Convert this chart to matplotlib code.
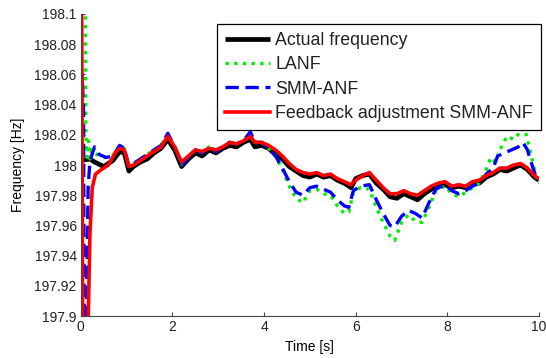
import matplotlib
matplotlib.use("Agg")
import matplotlib.pyplot as plt

# ── Datos ────────────────────────────────────────────────────────────────────
t_actual = [0, 0.2, 0.3, 0.5, 0.7, 0.85, 0.95, 1.05, 1.15, 1.3, 1.45, 1.6, 1.75,
            1.9, 2.05, 2.2, 2.35, 2.5, 2.65, 2.8, 2.95, 3.1, 3.25, 3.4, 3.55,
            3.7, 3.8, 3.95, 4.1, 4.25, 4.4, 4.55, 4.7, 4.85, 5.0, 5.15, 5.3,
            5.45, 5.6, 5.75, 5.9, 6.0, 6.15, 6.3, 6.45, 6.6, 6.75, 6.9, 7.05,
            7.2, 7.35, 7.5, 7.65, 7.8, 7.95, 8.1, 8.25, 8.4, 8.55, 8.7, 8.85,
            9.0, 9.15, 9.3, 9.45, 9.6, 9.75, 9.9, 10.0]
f_actual = [198.003, 198.004, 198.002, 197.999, 198.003, 198.009, 198.008,
            197.996, 197.999, 198.002, 198.004, 198.008, 198.011, 198.017,
            198.010, 197.999, 198.004, 198.008, 198.006, 198.010, 198.008,
            198.011, 198.013, 198.012, 198.015, 198.017, 198.012, 198.013,
            198.011, 198.007, 198.004, 197.999, 197.996, 197.993, 197.992,
            197.994, 197.992, 197.993, 197.990, 197.988, 197.985, 197.991,
            197.993, 197.994, 197.988, 197.984, 197.979, 197.978, 197.981,
            197.979, 197.977, 197.981, 197.984, 197.986, 197.987, 197.985,
            197.986, 197.985, 197.988, 197.988, 197.992, 197.994, 197.997,
            197.996, 197.998, 198.000, 197.997, 197.992, 197.990]

t_lanf = [0, 0.09, 0.11, 0.14, 0.17, 0.2, 0.24, 0.3, 0.4, 0.55, 0.7, 0.85, 0.95,
          1.05, 1.15, 1.3, 1.45, 1.6, 1.75, 1.9, 2.05, 2.2, 2.35, 2.5, 2.65,
          2.8, 2.95, 3.1, 3.25, 3.4, 3.55, 3.7, 3.8, 3.95, 4.1, 4.25, 4.4,
          4.55, 4.7, 4.85, 5.0, 5.15, 5.3, 5.45, 5.6, 5.75, 5.85, 5.95, 6.1,
          6.3, 6.45, 6.6, 6.75, 6.85, 7.0, 7.15, 7.3, 7.45, 7.6, 7.75, 7.95,
          8.1, 8.25, 8.4, 8.55, 8.7, 8.85, 8.95, 9.05, 9.15, 9.3, 9.45, 9.6,
          9.68, 9.78, 9.88, 9.95, 10.0]
f_lanf = [198.30, 198.20, 198.020, 198.005, 198.016, 198.004, 198.010, 198.008,
          198.006, 198.005, 198.006, 198.013, 198.011, 197.999, 198.001,
          198.004, 198.007, 198.010, 198.013, 198.020, 198.012, 198.000,
          198.005, 198.010, 198.008, 198.012, 198.009, 198.012, 198.015,
          198.014, 198.016, 198.021, 198.015, 198.015, 198.011, 198.006,
          197.997, 197.986, 197.978, 197.975, 197.983, 197.984, 197.981,
          197.980, 197.973, 197.968, 197.969, 197.982, 197.985, 197.984,
          197.972, 197.962, 197.953, 197.950, 197.962, 197.967, 197.963,
          197.962, 197.972, 197.983, 197.986, 197.981, 197.979, 197.982,
          197.985, 197.988, 197.997, 198.005, 198.002, 198.010, 198.019,
          198.017, 198.022, 198.025, 198.013, 198.000, 197.989, 197.988]

t_smm = [0, 0.03, 0.06, 0.08, 0.12, 0.16, 0.2, 0.3, 0.4, 0.55, 0.7, 0.85, 0.95,
         1.05, 1.15, 1.3, 1.45, 1.6, 1.75, 1.9, 2.05, 2.2, 2.35, 2.5, 2.65,
         2.8, 2.95, 3.1, 3.25, 3.4, 3.55, 3.7, 3.8, 3.95, 4.1, 4.25, 4.4,
         4.55, 4.7, 4.85, 5.0, 5.15, 5.3, 5.45, 5.6, 5.75, 5.85, 5.95, 6.1,
         6.3, 6.45, 6.6, 6.75, 6.85, 7.0, 7.15, 7.3, 7.45, 7.6, 7.75, 7.95,
         8.1, 8.25, 8.4, 8.55, 8.7, 8.85, 9.0, 9.1, 9.25, 9.4, 9.55, 9.65,
         9.75, 9.85, 9.95, 10.0]
f_smm = [198.000, 198.060, 198.035, 197.800, 197.900, 197.985, 198.003,
         198.012, 198.007, 198.005, 198.006, 198.013, 198.011, 197.999,
         198.001, 198.004, 198.007, 198.010, 198.013, 198.021, 198.012,
         198.000, 198.005, 198.010, 198.008, 198.012, 198.009, 198.012,
         198.015, 198.014, 198.016, 198.022, 198.015, 198.015, 198.011,
         198.006, 197.998, 197.989, 197.982, 197.980, 197.985, 197.986,
         197.984, 197.982, 197.977, 197.973, 197.972, 197.983, 197.986,
         197.987, 197.977, 197.968, 197.960, 197.959, 197.966, 197.970,
         197.968, 197.965, 197.975, 197.984, 197.987, 197.983, 197.981,
         197.983, 197.986, 197.988, 197.994, 197.998, 198.006, 198.008,
         198.010, 198.012, 198.015, 198.010, 198.000, 197.991, 197.990]

t_fb = [0, 0.03, 0.06, 0.15, 0.2, 0.25, 0.32, 0.45, 0.6, 0.75, 0.85, 0.95,
        1.05, 1.15, 1.3, 1.45, 1.6, 1.75, 1.9, 2.05, 2.2, 2.35, 2.5, 2.65,
        2.8, 2.95, 3.1, 3.25, 3.4, 3.55, 3.7, 3.8, 3.95, 4.1, 4.25, 4.4,
        4.55, 4.7, 4.85, 5.0, 5.15, 5.3, 5.45, 5.6, 5.75, 5.9, 6.0, 6.15,
        6.3, 6.45, 6.6, 6.75, 6.9, 7.05, 7.2, 7.35, 7.5, 7.65, 7.8, 7.95,
        8.1, 8.25, 8.4, 8.55, 8.7, 8.85, 9.0, 9.15, 9.3, 9.45, 9.6, 9.75,
        9.9, 10.0]
f_fb = [198.300, 198.000, 197.700, 197.880, 197.955, 197.985, 197.994,
        197.997, 198.000, 198.008, 198.011, 198.010, 197.999, 198.000,
        198.003, 198.006, 198.009, 198.012, 198.019, 198.012, 198.002,
        198.006, 198.010, 198.009, 198.011, 198.010, 198.012, 198.015,
        198.014, 198.016, 198.019, 198.015, 198.015, 198.013, 198.010,
        198.006, 198.001, 197.997, 197.995, 197.994, 197.995, 197.993,
        197.994, 197.991, 197.989, 197.987, 197.990, 197.993, 197.995,
        197.990, 197.985, 197.981, 197.981, 197.983, 197.981, 197.980,
        197.983, 197.986, 197.988, 197.989, 197.986, 197.987, 197.986,
        197.989, 197.990, 197.993, 197.995, 197.998, 197.998, 198.000,
        198.001, 197.998, 197.993, 197.991]

x_ticks = [0, 2, 4, 6, 8, 10]
y_ticks = [197.9, 197.92, 197.94, 197.96, 197.98, 198.0, 198.02, 198.04,
           198.06, 198.08, 198.1]
y_ticklabels = ["197.9", "197.92", "197.94", "197.96", "197.98", "198",
                "198.02", "198.04", "198.06", "198.08", "198.1"]

# ── Figura ──────────────────────────────────────────────────────────────────
plt.rcParams.update({
    "font.family": ["Liberation Sans", "DejaVu Sans"],
    "text.color": "#222222",
    "axes.edgecolor": "#444444",
    "xtick.color": "#444444",
    "ytick.color": "#444444",
    "xtick.labelcolor": "#222222",
    "ytick.labelcolor": "#222222",
})

fig = plt.figure(figsize=(5.46, 3.58), dpi=100)
ax = fig.add_axes([0.148, 0.117, 0.839, 0.844])

ax.plot(t_actual, f_actual, color="black", lw=3.4, label="Actual frequency",
        solid_capstyle="butt")
ax.plot(t_lanf, f_lanf, color="#00ee00", lw=2.4, ls=(0, (1.0, 1.6)),
        label="LANF", dash_capstyle="butt")
ax.plot(t_smm, f_smm, color="#0000ff", lw=2.4, ls=(0, (4.0, 2.0)),
        label="SMM-ANF", dash_capstyle="butt")
ax.plot(t_fb, f_fb, color="#ff0000", lw=2.6, label="Feedback adjustment SMM-ANF")

ax.set_xlim(0, 10)
ax.set_ylim(197.9, 198.1)
ax.set_xticks(x_ticks)
ax.set_yticks(y_ticks)
ax.set_yticklabels(y_ticklabels)
ax.tick_params(direction="in", length=3, width=0.8, labelsize=10, pad=3)
ax.spines["top"].set_visible(False)
ax.spines["right"].set_visible(False)
ax.set_xlabel("Time [s]", fontsize=10, labelpad=4)
ax.set_ylabel("Frequency [Hz]", fontsize=10, labelpad=7)

leg = ax.legend(loc="upper right", bbox_to_anchor=(541 / 546, 1 - 24 / 358),
                bbox_transform=fig.transFigure, fontsize=12.8,
                frameon=True, fancybox=False, framealpha=1, borderaxespad=0,
                handlelength=2.5, handletextpad=0.33, labelspacing=0.41,
                borderpad=0.45)
leg.get_frame().set_edgecolor("black")
leg.get_frame().set_linewidth(0.9)

fig.savefig("out.png", dpi=100)
plt.close(fig)
